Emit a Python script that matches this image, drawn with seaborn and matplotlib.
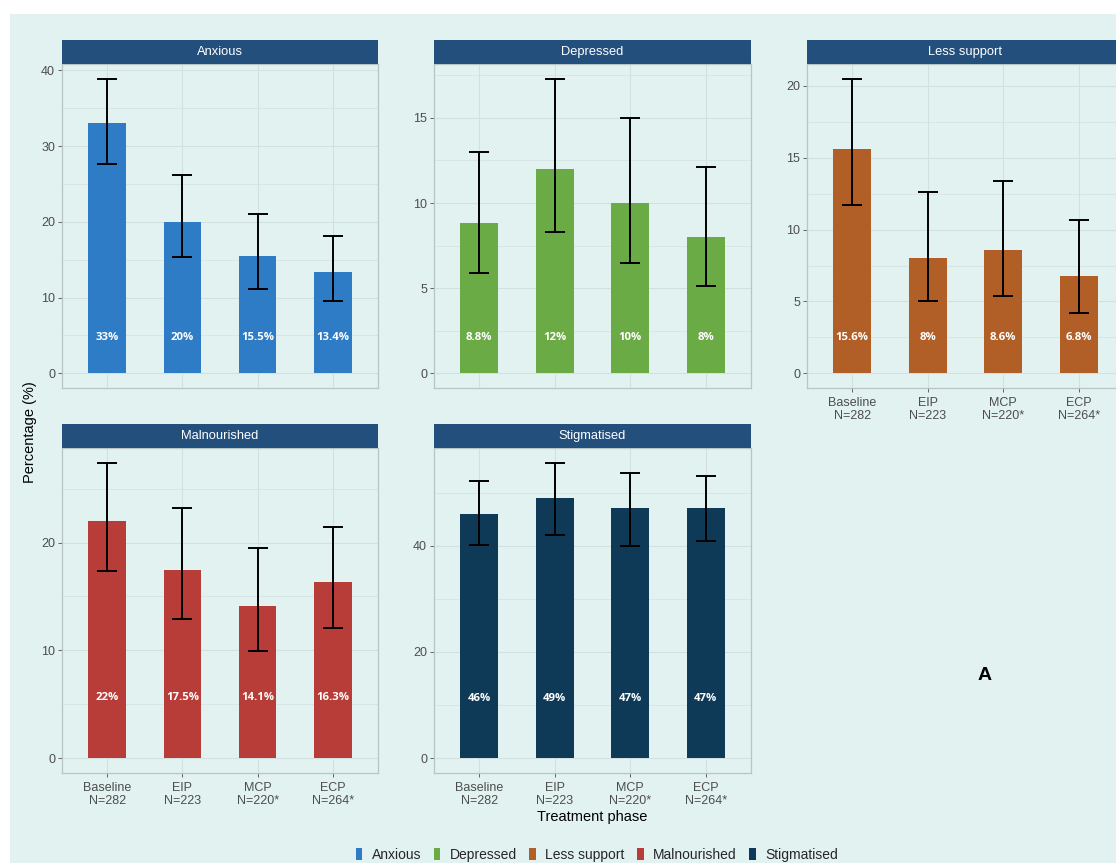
import matplotlib
matplotlib.use("Agg")
import matplotlib.pyplot as plt
import seaborn as sns
import pandas as pd
from matplotlib.patches import Rectangle, Patch
from matplotlib.ticker import MultipleLocator

# ---------------- data ----------------
phases = ["Baseline\nN=282", "EIP\nN=223", "MCP\nN=220*", "ECP\nN=264*"]
panels = ["Anxious", "Depressed", "Less support", "Malnourished", "Stigmatised"]

anxious = [33, 20, 15.5, 13.4]
anxious_lo = [27.6, 15.3, 11.1, 9.5]
anxious_hi = [38.9, 26.2, 21.1, 18.1]
anxious_lab = ["33%", "20%", "15.5%", "13.4%"]

depressed = [8.8, 12, 10, 8]
depressed_lo = [5.9, 8.3, 6.5, 5.1]
depressed_hi = [13.0, 17.3, 15.0, 12.1]
depressed_lab = ["8.8%", "12%", "10%", "8%"]

less_support = [15.6, 8, 8.6, 6.8]
less_support_lo = [11.7, 5.0, 5.4, 4.2]
less_support_hi = [20.5, 12.6, 13.4, 10.7]
less_support_lab = ["15.6%", "8%", "8.6%", "6.8%"]

malnourished = [22, 17.5, 14.1, 16.3]
malnourished_lo = [17.4, 12.9, 9.9, 12.1]
malnourished_hi = [27.4, 23.2, 19.5, 21.4]
malnourished_lab = ["22%", "17.5%", "14.1%", "16.3%"]

stigmatised = [46, 49, 47, 47]
stigmatised_lo = [40.1, 42.1, 40.0, 40.8]
stigmatised_hi = [52.1, 55.6, 53.6, 53.1]
stigmatised_lab = ["46%", "49%", "47%", "47%"]

tick_steps = [10, 5, 5, 10, 20]
colors = ["#2e7cc6", "#6aab45", "#b15f26", "#b83c38", "#0e3a57"]

# ---------------- style ----------------
sns.set_theme(style="white")
plt.rcParams["font.family"] = ["Liberation Sans", "DejaVu Sans"]

W, H = 1116, 863
BG = "#e2f2f1"
STRIP = "#234f7d"
GRID = "#d3e0e0"
BORDER = "#b9c4c4"
TICKC = "#4d4d4d"

fig = plt.figure(figsize=(W / 100, H / 100), dpi=100, facecolor="white")
fig.patches.append(Rectangle((10 / W, 0), 1 - 10 / W, 1 - 14 / H,
                             transform=fig.transFigure, facecolor=BG,
                             edgecolor="none", zorder=-10))

data = {
    "Anxious": (anxious, anxious_lo, anxious_hi, anxious_lab),
    "Depressed": (depressed, depressed_lo, depressed_hi, depressed_lab),
    "Less support": (less_support, less_support_lo, less_support_hi, less_support_lab),
    "Malnourished": (malnourished, malnourished_lo, malnourished_hi, malnourished_lab),
    "Stigmatised": (stigmatised, stigmatised_lo, stigmatised_hi, stigmatised_lab),
}

# panel pixel boxes: (left, top, width, height)
boxes = [(62, 64, 316, 324), (434, 64, 317, 324), (807, 64, 317, 324),
         (62, 448, 316, 325), (434, 448, 317, 325)]
show_x = [False, False, True, True, True]
label_frac = [0.155, 0.155, 0.155, 0.232, 0.228]

for i, name in enumerate(panels):
    vals, lo, hi, labs = data[name]
    l, t, w, h = boxes[i]
    ax = fig.add_axes([l / W, (H - t - h) / H, w / W, h / H])
    ax.set_facecolor("none")
    df = pd.DataFrame({"phase": phases, "value": vals})
    sns.barplot(data=df, x="phase", y="value", order=phases, color=colors[i],
                saturation=1, width=0.5, errorbar=None, ax=ax, zorder=2,
                edgecolor="none")
    xs = list(range(len(phases)))
    yerr = [[v - a for v, a in zip(vals, lo)], [b - v for v, b in zip(vals, hi)]]
    ax.errorbar(xs, vals, yerr=yerr, fmt="none", ecolor="black", elinewidth=1.4,
                capsize=7.5, capthick=1.4, zorder=3)
    top = max(hi)
    ax.set_ylim(-0.05 * top, top * 1.05)
    ax.set_xlim(-0.6, len(phases) - 0.4)
    ax.yaxis.set_major_locator(MultipleLocator(tick_steps[i]))
    ax.yaxis.set_minor_locator(MultipleLocator(tick_steps[i] / 2))
    ax.grid(True, which="major", color=GRID, linewidth=0.8, zorder=0)
    ax.grid(True, which="minor", axis="y", color=GRID, linewidth=0.5, zorder=0)
    ax.set_axisbelow(True)
    for s in ax.spines.values():
        s.set_color(BORDER)
        s.set_linewidth(0.9)
    ax.tick_params(axis="both", colors=TICKC, labelsize=9, length=3, width=0.6,
                   left=True, bottom=True, which="major", pad=2)
    ax.tick_params(axis="x", pad=3.5)
    ax.tick_params(which="minor", length=0)
    ax.set_xlabel("")
    ax.set_ylabel("")
    ax.set_xticks(xs)
    if show_x[i]:
        ax.set_xticklabels(phases, linespacing=1.1)
    else:
        ax.set_xticklabels([])
        ax.tick_params(axis="x", length=0)
    for x, lab in zip(xs, labs):
        ax.text(x, label_frac[i], lab, transform=ax.get_xaxis_transform(), ha="center",
                va="center", color="white", fontsize=8.2, fontweight="bold",
                family=["Open Sans", "DejaVu Sans"], zorder=4)
    # strip
    sax = fig.add_axes([l / W, (H - t) / H, w / W, 24 / H])
    sax.set_facecolor(STRIP)
    sax.set_xticks([])
    sax.set_yticks([])
    for s in sax.spines.values():
        s.set_visible(False)
    sax.text(0.5, 0.5, name, ha="center", va="center", color="white",
             fontsize=9.3, transform=sax.transAxes)

fig.text(30 / W, 1 - 432 / H, "Percentage (%)", rotation=90, ha="center",
         va="center", fontsize=10.5, color="black")
fig.text(592 / W, 1 - 817 / H, "Treatment phase", ha="center", va="center",
         fontsize=10.5, color="black")
fig.text(985 / W, 1 - 675 / H, "A", ha="center", va="center", fontsize=14,
         fontweight="bold", color="black")

handles = [Patch(facecolor=c, edgecolor="none", label=n) for c, n in zip(colors, panels)]
fig.legend(handles=handles, loc="center", bbox_to_anchor=(597 / W, 1 - 855 / H),
           ncol=5, frameon=False, fontsize=10, handlelength=0.45, handleheight=1.0,
           handletextpad=0.7, columnspacing=0.9, borderaxespad=0)

fig.savefig("out.png", dpi=100, facecolor="white")
